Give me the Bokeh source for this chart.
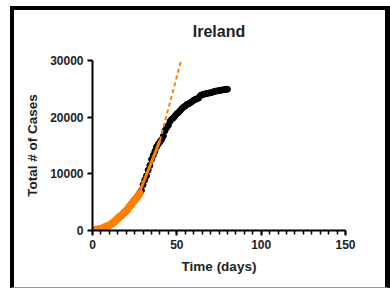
from bokeh.plotting import figure
from bokeh.models import SingleIntervalTicker, Range1d, BasicTickFormatter, Title
from bokeh.embed import file_html
from bokeh.resources import INLINE

# Daily cumulative case counts (day 0 .. 80)
days = list(range(81))
cases = [70, 90, 129, 169, 223, 292, 366, 557, 683,
         785, 906, 1125, 1329, 1564, 1819, 2121, 2415, 2615, 2910,
         3235, 3447, 3849, 4273, 4604, 4994, 5364, 5709, 6074, 6574,
         7054, 8089, 8928, 9655, 10647, 11479, 12547, 13271, 13980, 14758,
         15251, 15652, 16040, 16671, 17607, 18184, 18561, 19262, 19648, 19877,
         20253, 20612, 20833, 21176, 21506, 21772, 21983, 22248, 22385, 22541,
         22760, 22996, 23135, 23242, 23401, 23827, 23956, 24048, 24112, 24200,
         24251, 24315, 24391, 24506, 24582, 24639, 24698, 24735, 24803, 24841,
         24876, 24929]

# early-phase points highlighted in orange
early_days = days[:29]
early_cases = cases[:29]

# linear-phase fit and its projection
fit_days = [27, 40]
fit_cases = [6100, 15900]
proj_days = [40, 52.5]
proj_cases = [15900, 30000]

ORANGE = "#ff8000"
FONT = "Liberation Sans"
TXT = "#222222"
W, H = 380, 282

p = figure(width=W, height=H,
           x_range=Range1d(0, 150), y_range=Range1d(0, 30000),
           output_backend="svg", toolbar_location=None, title="Ireland",
           min_border_left=78, min_border_top=50,
           min_border_right=49, min_border_bottom=62)

p.styles = {"margin-left": "10px", "margin-top": "6px",
            "border-left": "4px solid black", "border-top": "4px solid black",
            "border-right": "5px solid black", "border-bottom": "1px solid #999999"}

# invisible spacer between the title and the plot area
p.add_layout(Title(text=" ", text_font_size="1px", standoff=13), "above")

p.scatter(days, cases, size=6, color="black")
p.scatter(early_days, early_cases, size=7, color=ORANGE)
p.line(fit_days, fit_cases, line_width=3, color=ORANGE)
p.line(proj_days, proj_cases, line_width=2, color=ORANGE, line_dash="4 3")

p.title.align = "center"
p.title.text_font = FONT
p.title.text_font_size = "16px"
p.title.text_font_style = "bold"
p.title.text_color = TXT
p.title.standoff = 10

p.grid.visible = False
p.outline_line_color = None

p.xaxis.ticker = SingleIntervalTicker(interval=50, num_minor_ticks=10)
p.yaxis.ticker = SingleIntervalTicker(interval=10000, num_minor_ticks=0)
p.yaxis.formatter = BasicTickFormatter(use_scientific=False)

p.xaxis.axis_label = "Time (days)"
p.yaxis.axis_label = "Total # of Cases"

for ax in (p.xaxis, p.yaxis):
    ax.axis_line_width = 2
    ax.axis_line_color = "black"
    ax.major_tick_line_width = 2
    ax.major_tick_line_color = "black"
    ax.major_tick_out = 5
    ax.major_tick_in = 0
    ax.minor_tick_line_width = 1.5
    ax.minor_tick_line_color = "black"
    ax.minor_tick_out = 4
    ax.minor_tick_in = 0
    ax.major_label_text_font = FONT
    ax.major_label_text_font_style = "bold"
    ax.major_label_text_font_size = "12px"
    ax.major_label_text_color = TXT
    ax.axis_label_text_font = FONT
    ax.axis_label_text_font_style = "bold"
    ax.axis_label_text_font_size = "13.5px"
    ax.axis_label_text_color = TXT
    ax.major_label_standoff = 4

p.yaxis.minor_tick_line_color = None
p.xaxis.axis_label_standoff = 7
p.yaxis.axis_label_standoff = 7

open("out.html", "w").write(file_html(p, INLINE))
